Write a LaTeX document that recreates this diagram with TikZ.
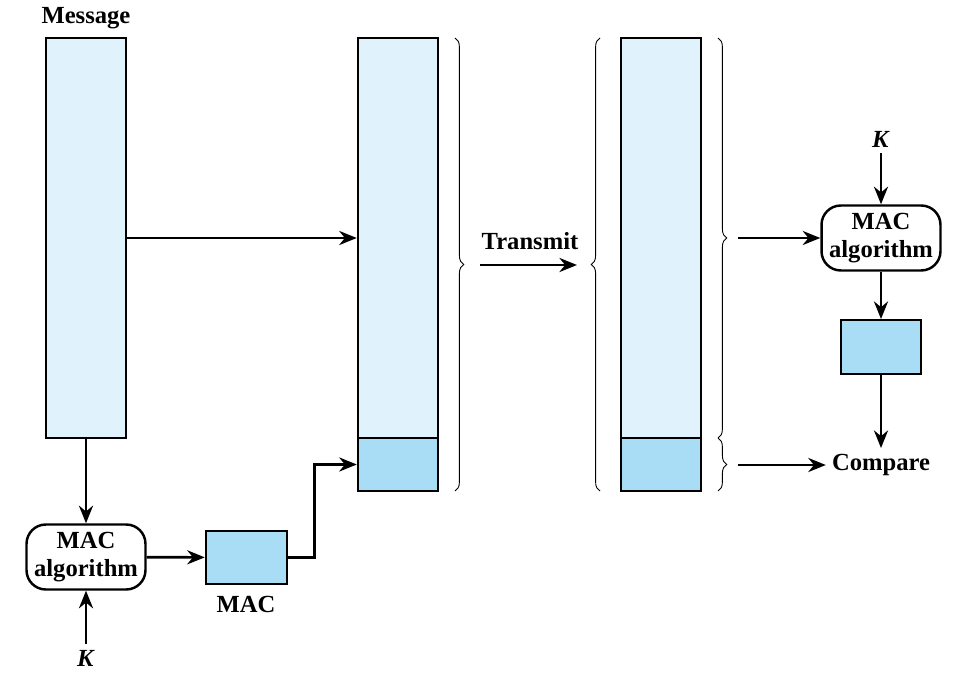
\documentclass[tikz,border=0pt]{standalone}
\usepackage{fontspec}
\setmainfont{Liberation Serif}
\usetikzlibrary{arrows.meta}
\usetikzlibrary{decorations.pathreplacing}
\definecolor{msgblue}{HTML}{E0F2FC}
\definecolor{macblue}{HTML}{A8DDF5}

\begin{document}
\begin{tikzpicture}[x=0.02cm,y=-0.02cm,
    font=\bfseries\fontsize{14}{16}\selectfont,
    block/.style={draw,line width=1.4pt,fill=msgblue,inner sep=0pt,minimum width=1.6cm},
    tagbox/.style={draw,line width=1.4pt,fill=macblue,inner sep=0pt,minimum width=1.6cm,minimum height=1.07cm},
    algbox/.style={draw,line width=1.4pt,fill=white,rounded corners=11pt,minimum width=2.38cm,minimum height=1.3cm,align=center,inner sep=0pt},
    arr/.style={-{Stealth[length=10pt,width=8pt]},line width=1.5pt},
    brc/.style={decorate,decoration={brace,amplitude=5pt},line width=0.5pt}]

    \useasboundingbox (0,0) rectangle (967,675);

    \node[block,minimum height=8cm]   (msg)  at (86,238)     {};
    \node[above=1pt] (msglbl) at (msg.north) {Message};
    \node[block,minimum height=8cm]   (mid)  at (398,238)    {};
    \node[tagbox]                     (midtag) at (398,464.5) {};
    \node[block,minimum height=8cm]   (rcv)  at (661,238)    {};
    \node[tagbox]                     (rcvtag) at (661,464.5) {};

    \node[algbox]                     (alg1) at (86,557)     {MAC\\algorithm};
    \node                             (k1)   at (86,658)     {\textit{K}};
    \node[tagbox,minimum width=1.62cm] (tag1) at (246.5,557.5) {};
    \node                             (maclbl) at (246,604)  {MAC};

    \node                             (tx)   at (530,241)    {Transmit};
    \coordinate                       (txa)  at (480,265);
    \coordinate                       (txb)  at (577,265);

    \node[algbox]                     (alg2) at (881,238)    {MAC\\algorithm};
    \node                             (k2)   at (881,139)    {\textit{K}};
    \node[tagbox]                     (tag2) at (881,347)    {};
    \node                             (cmp)  at (881,465)    {Compare};
    \coordinate                       (in1)  at (738,238);
    \coordinate                       (in2)  at (738,465);

    \draw[brc] (455,38) -- (455,491);
    \draw[brc] (600,491) -- (600,38);
    \draw[brc] (718,38) -- (718,438);
    \draw[brc] (718,438) -- (718,491);

    \draw (msg) edge[arr] (mid);
    \draw (msg) edge[arr] (alg1);
    \draw (k1) edge[arr] (alg1);
    \draw (alg1) edge[arr] (tag1);
    \draw[arr] (tag1.east) -- ++(26,0) |- (midtag.west);
    \draw (txa) edge[arr] (txb);
    \draw (in1) edge[arr] (alg2);
    \draw (k2) edge[arr] (alg2);
    \draw (alg2) edge[arr] (tag2);
    \draw (tag2) edge[arr] (cmp);
    \draw (in2) edge[arr] (cmp);
  \end{tikzpicture}
\end{document}
